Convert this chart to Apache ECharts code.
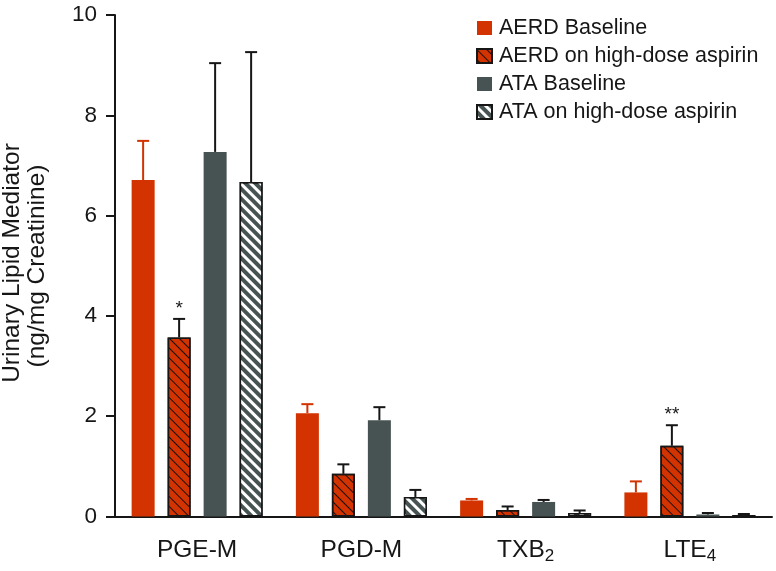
<!DOCTYPE html>
<html>
<head>
<meta charset="utf-8">
<script src="https://cdn.jsdelivr.net/npm/echarts@6/dist/echarts.min.js"></script>
<style>
  html, body { margin: 0; padding: 0; background: #fff; }
  #chart { width: 776px; height: 571px; }
</style>
</head>
<body>
<div id="chart"></div>
<script>
// data (ng/mg creatinine); *Err = top of the error bar
const categories = ['PGE-M', 'PGD-M', 'TXB2', 'LTE4'];
const yTicks = [0, 2, 4, 6, 8, 10];
const aerdBase = [6.71, 2.06, 0.32, 0.48];
const aerdBaseErr = [7.49, 2.24, 0.35, 0.70];
const aerdAsp = [3.57, 0.85, 0.13, 1.41];
const aerdAspErr = [3.94, 1.04, 0.20, 1.82];
const ataBase = [7.27, 1.92, 0.29, 0.04];
const ataBaseErr = [9.04, 2.18, 0.33, 0.07];
const ataAsp = [6.67, 0.39, 0.07, 0.03];
const ataAspErr = [9.26, 0.53, 0.12, 0.05];
const aerdAspSig = ['*', '', '', '**'];

const names = ['AERD Baseline', 'AERD on high-dose aspirin', 'ATA Baseline', 'ATA on high-dose aspirin'];
const ORANGE = '#d23300';
const GREY = '#465352';
const INK = '#161616';
const FONT = '"Liberation Sans", Arial, Helvetica, sans-serif';
const BAR_W = 23;
const GAP = 13;

const chart = echarts.init(document.getElementById('chart'));

function barSeries (name, values, color, decal) {
  const s = {
    name: name,
    type: 'bar',
    data: values,
    barWidth: BAR_W,
    barGap: (GAP / BAR_W * 100).toFixed(1) + '%',
    itemStyle: { color: color },
    z: 2
  }
  if (decal) {
    s.itemStyle.borderColor = INK
    s.itemStyle.borderWidth = 1.5
    s.itemStyle.decal = decal
  }
  return s
}

function errSeries (idx, values, tops, color, sig) {
  return {
    type: 'custom',
    name: 'err' + idx,
    z: 3,
    silent: true,
    data: values.map((v, i) => [i, v, tops[i], sig ? sig[i] : '']),
    renderItem: function (params, api) {
      const base = api.coord([api.value(0), api.value(1)])
      const top = api.coord([api.value(0), api.value(2)])
      const x = base[0] + (idx - 1.5) * (BAR_W + GAP)
      const children = [
        { type: 'line', shape: { x1: x, y1: base[1], x2: x, y2: top[1] }, style: { stroke: color, lineWidth: 2 } },
        { type: 'line', shape: { x1: x - 6, y1: top[1], x2: x + 6, y2: top[1] }, style: { stroke: color, lineWidth: 2 } }
      ]
      const mark = api.value(3)
      if (mark) {
        children.push({
          type: 'text',
          x: x, y: top[1] - 10,
          style: { text: mark, font: '19px ' + FONT, fill: INK, align: 'center', verticalAlign: 'middle' }
        })
      }
      return { type: 'group', children: children }
    }
  }
}

const orangeHatch = { color: 'rgba(15,15,15,0.95)', symbol: 'rect', dashArrayX: [1, 0], dashArrayY: [1, 5.5], rotation: Math.PI / 4 }
const greyHatch = { color: '#ffffff', symbol: 'rect', dashArrayX: [1, 0], dashArrayY: [2.8, 3.2], rotation: Math.PI / 4 }

const option = {
  animation: false,
  backgroundColor: '#fff',
  textStyle: { fontFamily: FONT },
  grid: { left: 115, right: 4, top: 15, bottom: 54.5, containLabel: false },
  legend: {
    data: names,
    orient: 'vertical',
    left: 471,
    top: 12,
    icon: 'rect',
    itemWidth: 15,
    itemHeight: 14,
    itemGap: 6,
    textStyle: { fontSize: 21.5, color: INK, fontFamily: FONT, padding: [0, 0, 0, 2] }
  },
  xAxis: {
    type: 'category',
    data: categories,
    axisLine: { lineStyle: { color: INK, width: 2 } },
    axisTick: { alignWithLabel: true, length: 9, lineStyle: { color: INK, width: 2 } },
    axisLabel: {
      margin: 21,
      color: INK,
      formatter: v => {
        const m = v.match(/^(.*?)(\d)$/)
        return m ? '{m|' + m[1] + '}{sub|' + m[2] + '}' : '{m|' + v + '}'
      },
      rich: {
        m: { fontSize: 24.5, lineHeight: 27, verticalAlign: 'top', color: INK, fontFamily: FONT },
        sub: { fontSize: 17, lineHeight: 17, verticalAlign: 'bottom', color: INK, fontFamily: FONT }
      }
    }
  },
  yAxis: {
    type: 'value',
    min: yTicks[0],
    max: yTicks[yTicks.length - 1],
    interval: yTicks[1] - yTicks[0],
    splitLine: { show: false },
    axisLine: { show: true, lineStyle: { color: INK, width: 2 } },
    axisTick: { show: true, length: 9, lineStyle: { color: INK, width: 2 } },
    axisLabel: { fontSize: 22.5, color: INK, margin: 18 }
  },
  graphic: [
    { type: 'text', x: 12, y: 263, rotation: Math.PI / 2,
      style: { text: 'Urinary Lipid Mediator', font: '24.5px ' + FONT, fill: INK, align: 'center', verticalAlign: 'middle' } },
    { type: 'text', x: 37, y: 266, rotation: Math.PI / 2,
      style: { text: '(ng/mg Creatinine)', font: '24.5px ' + FONT, fill: INK, align: 'center', verticalAlign: 'middle' } }
  ],
  series: [
    barSeries(names[0], aerdBase, ORANGE),
    barSeries(names[1], aerdAsp, ORANGE, orangeHatch),
    barSeries(names[2], ataBase, GREY),
    barSeries(names[3], ataAsp, GREY, greyHatch),
    errSeries(0, aerdBase, aerdBaseErr, ORANGE),
    errSeries(1, aerdAsp, aerdAspErr, INK, aerdAspSig),
    errSeries(2, ataBase, ataBaseErr, INK),
    errSeries(3, ataAsp, ataAspErr, INK)
  ]
}

chart.setOption(option)
</script>
</body>
</html>
